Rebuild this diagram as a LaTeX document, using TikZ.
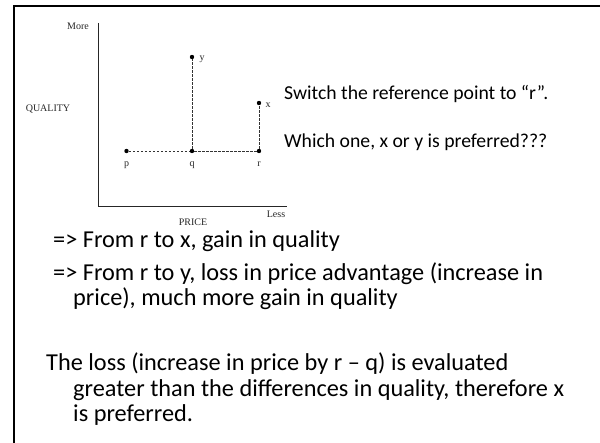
\documentclass[tikz,border=0pt]{standalone}
\usepackage{fontspec}
\setmainfont{Carlito}
\newfontfamily\scanfont{Liberation Serif}
\begin{document}
\begin{tikzpicture}[x=1pt,y=-1pt,
  frame/.style={line width=2.4pt, black},
  axis/.style={line width=0.9pt, black!85},
  guide/.style={line width=0.85pt, black!80, dash pattern=on 2.5pt off 1.5pt},
  dot/.style={circle, fill=black, inner sep=0pt, minimum size=4.4pt},
  lbl/.style={font=\scanfont\fontsize{10}{12}\selectfont, inner sep=0pt, text=black!85},
  body/.style={font=\fontsize{24.3}{28}\selectfont, anchor=base west, inner sep=0pt},
  side/.style={font=\fontsize{19.7}{23}\selectfont, anchor=base west, inner sep=0pt}]
\useasboundingbox (0,0) rectangle (600,443);
\begin{scope}
  \clip (0,0) rectangle (600,443);
  \coordinate (fbl) at (14,470);
  \coordinate (ftl) at (14,6);
  \coordinate (ftr) at (630,6);
  \draw[frame] (fbl) -- (ftl) -- (ftr);
\end{scope}
% axes
\coordinate (ytop) at (98,23);
\coordinate (O) at (98,206);
\coordinate (xend) at (287,206);
\draw[axis] (ytop) -- (O) -- (xend);
% points
\node[dot] (p) at (126.5,151) {};
\node[dot] (q) at (192,151) {};
\node[dot] (r) at (259,151) {};
\node[dot] (y) at (192,57) {};
\node[dot] (x) at (259,103) {};
\draw[guide] (p) -- (q) -- (r);
\draw[guide] (q) -- (y);
\draw[guide] (r) -- (x);
% labels
\node[lbl] (pl) at (126.5,165) {p};
\node[lbl] (ql) at (192,165) {q};
\node[lbl] (rl) at (259,164) {r};
\node[lbl] (yl) at (202,59) {y};
\node[lbl] (xl) at (268,105) {x};
\node[lbl] (more) at (78,26) {More};
\node[lbl] (less) at (276,214) {Less};
\node[lbl] (quality) at (48,109) {QUALITY};
\node[lbl] (price) at (193,222) {PRICE};
% side text
\node[side] (s1) at (284,100) {Switch the reference point to “r”.};
\node[side] (s2) at (284,148) {Which one, x or y is preferred???};
% body text
\node[body] (b1) at (53,248) {=> From r to x, gain in quality};
\node[body] (b2) at (53,281) {=> From r to y, loss in price advantage (increase in};
\node[body] (b3) at (73,306) {price), much more gain in quality};
\node[body] (b4) at (46,371) {The loss (increase in price by r – q) is evaluated};
\node[body] (b5) at (73,397) {greater than the differences in quality, therefore x};
\node[body] (b6) at (73,422) {is preferred.};
\end{tikzpicture}
\end{document}
